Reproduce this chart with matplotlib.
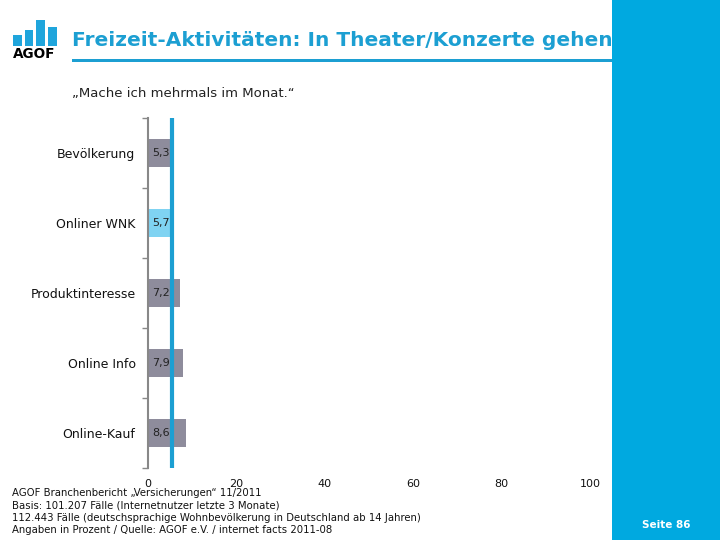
import matplotlib.pyplot as plt
from matplotlib.patches import Rectangle

# chart data
categories = ["Bevölkerung", "Onliner WNK", "Produktinteresse", "Online Info", "Online-Kauf"]
values = [5.3, 5.7, 7.2, 7.9, 8.6]
value_labels = ["5,3", "5,7", "7,2", "7,9", "8,6"]
bar_colors = ["#8e8c9c", "#7fd3f2", "#8e8c9c", "#8e8c9c", "#8e8c9c"]
reference_value = 5.4
x_ticks = [0, 20, 40, 60, 80, 100]

title = "Freizeit-Aktivitäten: In Theater/Konzerte gehen"
subtitle = "\u201eMache ich mehrmals im Monat.\u201c"
footer_lines = [
    "AGOF Branchenbericht \u201eVersicherungen\u201c 11/2011",
    "Basis: 101.207 Fälle (Internetnutzer letzte 3 Monate)",
    "112.443 Fälle (deutschsprachige Wohnbevölkerung in Deutschland ab 14 Jahren)",
    "Angaben in Prozent / Quelle: AGOF e.V. / internet facts 2011-08",
]
page_label = "Seite 86"
logo_heights = [11, 16, 26, 19]

BLUE = "#00a9e0"
TITLE_BLUE = "#1c9fd2"

W, H = 720, 540
fig = plt.figure(figsize=(7.2, 5.4), dpi=100)
fig.patch.set_facecolor("white")


def fx(px):
    return px / W


def fy(py):
    return 1 - py / H


# right side blue panel
fig.patches.append(Rectangle((fx(612), 0), fx(108), 1, transform=fig.transFigure,
                             facecolor=BLUE, edgecolor="none", zorder=0))

# logo
for i, h in enumerate(logo_heights):
    x0 = 13 + i * 11.7
    fig.patches.append(Rectangle((fx(x0), fy(46)), fx(8.5), h / H, transform=fig.transFigure,
                                 facecolor="#1fa5dc", edgecolor="none"))
fig.text(fx(34.5), fy(54), "AGOF", fontsize=9.8, fontweight="bold", color="black",
         ha="center", va="center")

# title and underline
fig.text(fx(72), fy(40), title, fontsize=14.5, fontweight="bold", color=TITLE_BLUE,
         ha="left", va="center", family="DejaVu Sans")
fig.patches.append(Rectangle((fx(72), fy(61.5)), fx(540), 3 / H, transform=fig.transFigure,
                             facecolor=TITLE_BLUE, edgecolor="none"))
fig.text(fx(72), fy(93), subtitle, fontsize=9.5, color="#222222", ha="left", va="center")

# bar chart
ax = fig.add_axes([fx(148), fy(468), fx(590 - 148), (468 - 118) / H])
ypos = list(range(len(categories)))
ax.barh(ypos, values, height=0.4, color=bar_colors, zorder=2)
for y, lab in zip(ypos, value_labels):
    ax.text(0.9, y, lab, fontsize=8, color="#222222", ha="left", va="center", zorder=3)
ax.axvline(reference_value, color=TITLE_BLUE, linewidth=3, zorder=4)

ax.set_xlim(0, 100)
ax.set_ylim(len(categories) - 0.5, -0.5)
ax.set_xticks(x_ticks)
ax.set_xticklabels([str(t) for t in x_ticks], fontsize=8, color="#111111")
ax.tick_params(axis="x", length=0, pad=8)
ax.set_yticks(ypos)
ax.set_yticklabels(categories, fontsize=9, color="#111111")
ax.tick_params(axis="y", which="major", length=0, pad=9)
ax.set_yticks([y - 0.5 for y in range(len(categories) + 1)], minor=True)
ax.tick_params(axis="y", which="minor", length=4, width=1, color="#888888", direction="out")
for side in ["top", "right", "bottom"]:
    ax.spines[side].set_visible(False)
ax.spines["left"].set_color("#888888")
ax.spines["left"].set_linewidth(1.5)
ax.set_facecolor("none")

# footer
for i, line in enumerate(footer_lines):
    fig.text(fx(12), fy(493 + i * 12.3), line, fontsize=7.3, color="#111111",
             ha="left", va="center")
fig.text(fx(666), fy(525), page_label, fontsize=7.5, fontweight="bold", color="white",
         ha="center", va="center")

fig.savefig("out.png", dpi=100)
